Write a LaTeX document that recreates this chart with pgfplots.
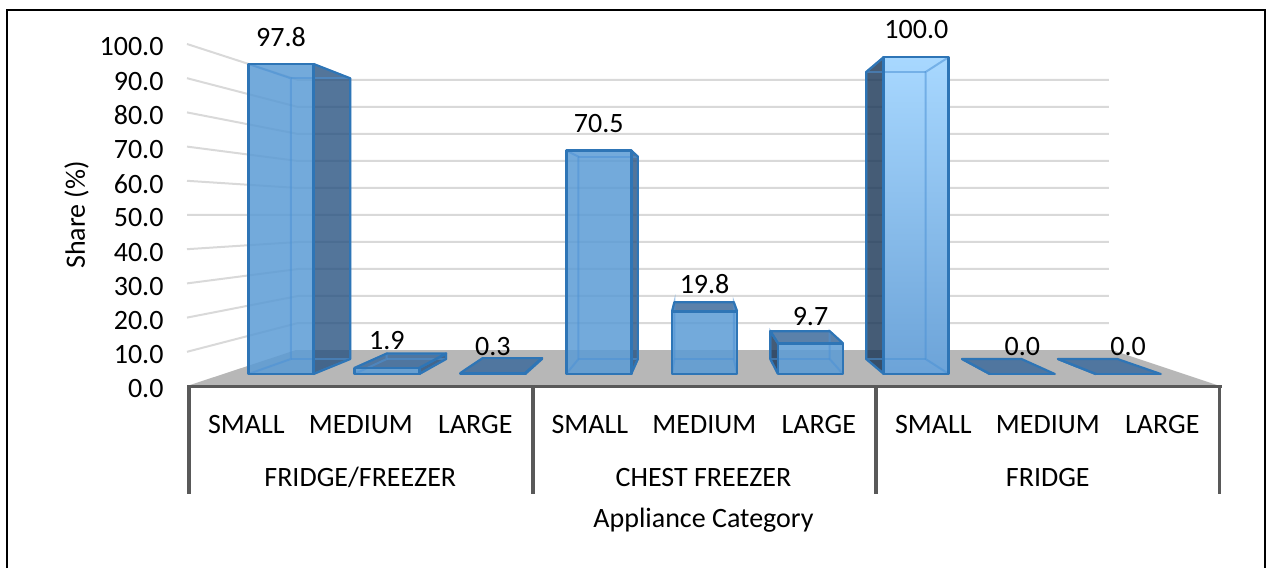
\documentclass[border=0pt]{standalone}
\usepackage{pgfplots}
\usepackage{pgfplotstable}
\usepackage{fontspec}
\setmainfont{Carlito}
\pgfplotsset{compat=1.18}

% Share of each size class, in chart order
\pgfplotstableread{
idx share
0   97.8
1   1.9
2   0.3
3   70.5
4   19.8
5   9.7
6   100.0
7   0.0
8   0.0
}\shares

\definecolor{gridgrey}{RGB}{217,217,217}
\definecolor{floorgrey}{RGB}{183,183,183}
\definecolor{axisgrey}{RGB}{89,89,89}
\definecolor{baredge}{RGB}{46,117,182}
\definecolor{barinner}{RGB}{76,146,214}
\definecolor{barfill}{RGB}{91,155,213}
\definecolor{barshade}{RGB}{40,82,129}
\definecolor{barshadeleft}{RGB}{28,56,88}
\definecolor{bartop}{RGB}{62,107,155}
\definecolor{lightfront}{RGB}{168,216,255}
\definecolor{lowfront}{RGB}{108,163,216}

\newcommand{\chartfont}{\fontsize{28}{32}\selectfont}

% Depth projection: horizontal and vertical position in layout units,
% converted to axis coordinates
\newcommand{\ax}[1]{((#1)-187)/114.78-0.5}
\newcommand{\ay}[1]{(386-(#1))/3.42}

\newcommand{\projectbar}[2]{%
  \pgfmathsetmacro\fL{\ax{281+105.9*#1-32.5}}%
  \pgfmathsetmacro\fR{\ax{281+105.9*#1+32.5}}%
  \pgfmathsetmacro\bL{\ax{320.5+95.9*#1-29.7}}%
  \pgfmathsetmacro\bR{\ax{320.5+95.9*#1+29.7}}%
  \pgfmathsetmacro\fB{\ay{374}}%
  \pgfmathsetmacro\bB{\ay{359}}%
  \pgfmathsetmacro\fT{\ay{374-3.17*#2}}%
  \pgfmathsetmacro\bT{\ay{359-2.87*#2}}%
}

\newcommand{\drawbar}[2]{%
  \projectbar{#1}{#2}%
  % side faces
  \ifnum#1<4
    \addplot[fill=barshade,fill opacity=.8,draw=none]
      coordinates {(\fR,\fB) (\bR,\bB) (\bR,\bT) (\fR,\fT)} --cycle;
  \fi
  \ifnum#1>4
    \addplot[fill=barshadeleft,fill opacity=.82,draw=none]
      coordinates {(\fL,\fB) (\bL,\bB) (\bL,\bT) (\fL,\fT)} --cycle;
  \fi
  % top face, seen only on the low boxes
  \pgfmathparse{#2<50 ? 1 : 0}%
  \edef\topvisible{\pgfmathresult}%
  \ifdim\topvisible pt>0.5pt
    \addplot[fill=bartop,fill opacity=.85,draw=none]
      coordinates {(\fL,\fT) (\fR,\fT) (\bR,\bT) (\bL,\bT)} --cycle;
  \fi
  % front face
  \ifnum#1=6
    \addplot[top color=lightfront,bottom color=lowfront,draw=none]
      coordinates {(\fL,\fB) (\fR,\fB) (\fR,\fT) (\fL,\fT)} --cycle;
  \else
    \addplot[fill=barfill,fill opacity=.85,draw=none]
      coordinates {(\fL,\fB) (\fR,\fB) (\fR,\fT) (\fL,\fT)} --cycle;
  \fi
  % edges seen through the box
  \ifdim#2pt>1pt
    \addplot[draw=barinner,draw opacity=.55,line width=2pt]
      coordinates {(\fL,\fT) (\bL,\bT) (\bL,\bB) (\fL,\fB)};
    \addplot[draw=barinner,draw opacity=.55,line width=2pt]
      coordinates {(\fR,\fT) (\bR,\bT) (\bR,\bB) (\fR,\fB)};
    \addplot[draw=barinner,draw opacity=.55,line width=2pt]
      coordinates {(\bL,\bT) (\bR,\bT)};
    \addplot[draw=barinner,draw opacity=.55,line width=2pt]
      coordinates {(\bL,\bB) (\bR,\bB)};
  \fi
  % outer edges
  \ifnum#1<4
    \addplot[draw=baredge,line width=2.2pt,line join=round]
      coordinates {(\fR,\fB) (\bR,\bB) (\bR,\bT) (\fR,\fT)};
  \fi
  \ifnum#1>4
    \addplot[draw=baredge,line width=2.2pt,line join=round]
      coordinates {(\fL,\fB) (\bL,\bB) (\bL,\bT) (\fL,\fT)};
  \fi
  \ifdim\topvisible pt>0.5pt
    \addplot[draw=baredge,line width=2.2pt,line join=round]
      coordinates {(\fL,\fT) (\bL,\bT) (\bR,\bT) (\fR,\fT)};
  \fi
  \addplot[draw=baredge,line width=2.8pt,line join=round]
    coordinates {(\fL,\fB) (\fR,\fB) (\fR,\fT) (\fL,\fT)} --cycle;
}

\begin{document}
\begin{tikzpicture}[x=1pt,y=1pt]
% page extent and the open-bottomed chart frame
\path[use as bounding box] (0pt,0pt) rectangle (1266pt,568pt);
\draw[black,line width=2pt] (6.5pt,0pt) -- (6.5pt,558pt) -- (1265pt,558pt) -- (1265pt,0pt);
\begin{axis}[
  at={(187pt,182pt)},anchor=south west,
  width=1033pt,height=342pt,scale only axis,
  xmin=-0.5,xmax=8.5,ymin=0,ymax=100,
  clip=false,
  axis line style={draw=none},
  major tick length=0pt,
  tick style={draw=none},
  xtick={0,0.9975,1.995,2.9925,3.99,4.9875,5.985,6.9825,7.98},
  xticklabels={SMALL,MEDIUM,LARGE,SMALL,MEDIUM,LARGE,SMALL,MEDIUM,LARGE},
  xticklabel style={font=\chartfont,yshift=-26pt,xshift=2pt},
  ytick={0,10,...,100},
  yticklabel style={font=\chartfont,xshift=-20pt,yshift=-3pt},
  /pgf/number format/.cd,fixed,fixed zerofill,precision=1,assume math mode=true,
  /pgfplots/.cd,
  xlabel={Appliance Category},
  ylabel={Share (\%)},
  label style={font=\chartfont},
  xlabel style={at={(axis description cs:0.5,-0.392)},anchor=center},
  ylabel style={at={(axis description cs:-0.107,0.5)},anchor=center},
]
% floor
\pgfmathsetmacro\xa{\ax{187}}
\pgfmathsetmacro\xd{\ax{1220}}
\pgfmathsetmacro\xf{\ax{296}}
\pgfmathsetmacro\xg{\ax{1112}}
\pgfmathsetmacro\yf{\ay{350}}
\addplot[fill=floorgrey,draw=none] coordinates {
  (\xa,0) (\xd,0) (\xg,\yf) (\xf,\yf)} --cycle;

% wall gridlines
\pgfplotsinvokeforeach{10,20,...,100}{
  \pgfmathsetmacro\xb{\ax{298}}
  \pgfmathsetmacro\xc{\ax{1109}}
  \pgfmathsetmacro\yb{\ay{350-2.7*#1}}
  \addplot[draw=gridgrey,line width=2pt] coordinates {(\xa,#1) (\xb,\yb) (\xc,\yb)};
}

% boxes
\pgfplotsinvokeforeach{0,...,8}{
  \pgfplotstablegetelem{#1}{share}\of\shares
  \edef\shareval{\pgfplotsretval}
  \drawbar{#1}{\shareval}
}

% value labels above each box
\addplot[draw=none,
  point meta=\thisrow{share},
  nodes near coords,
  nodes near coords style={font=\chartfont,anchor=center,yshift=27pt,
    /pgf/number format/.cd,fixed,fixed zerofill,precision=1,assume math mode=true},
] table[
  x expr={(281+105.9*\thisrow{idx}-187)/114.78-0.5},
  y expr={(12+3.17*\thisrow{share})/3.42},
] {\shares};

% category axis with its group dividers
\draw[axisgrey,line width=3.5pt]
  (axis cs:-0.5,-0.15) -- (axis cs:8.52,-0.15);
\pgfplotsinvokeforeach{-0.4826,2.5145,5.503,8.4956}{
  \draw[axisgrey,line width=3.5pt] (axis cs:#1,0) -- (axis cs:#1,-31.6);
}

\node[font=\chartfont] at (axis cs:1.01,-26.8) {FRIDGE/FREEZER};
\node[font=\chartfont] at (axis cs:4,-26.8) {CHEST FREEZER};
\node[font=\chartfont] at (axis cs:7,-26.8) {FRIDGE};
\end{axis}
\end{tikzpicture}
\end{document}
